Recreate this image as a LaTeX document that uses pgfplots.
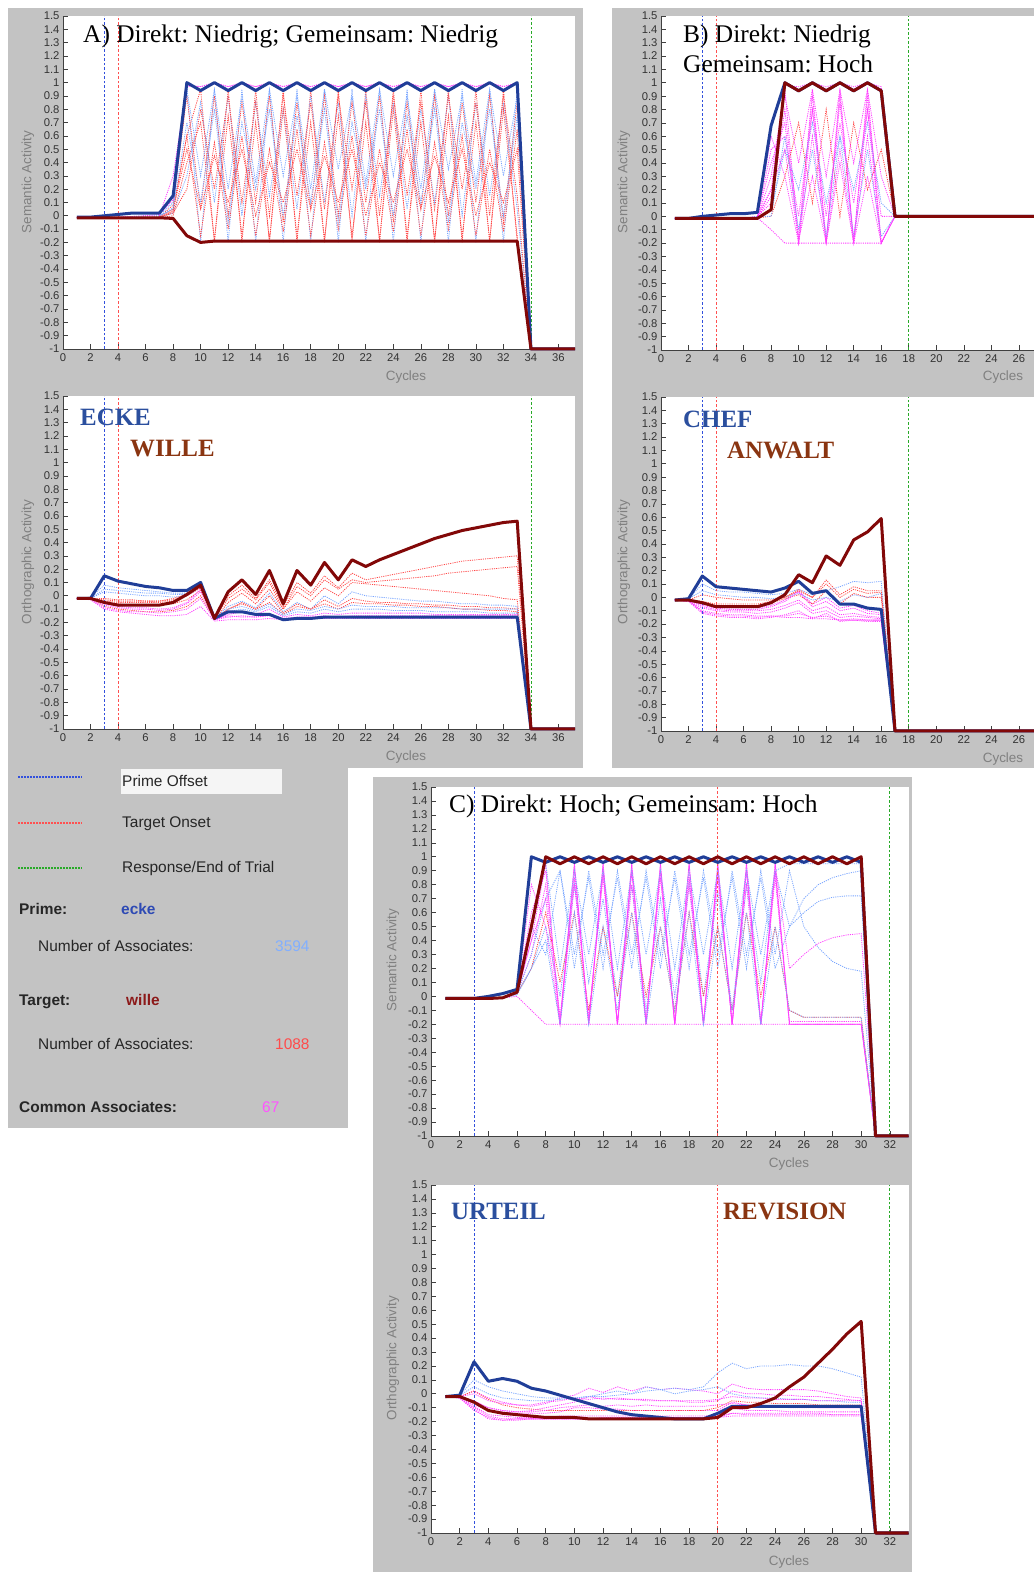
\documentclass[border=0pt]{standalone}
\usepackage{fontspec}
\setmainfont{Liberation Sans}
\newfontfamily\tnr{Liberation Serif}
\usepackage{pgfplots}
\pgfplotsset{compat=1.18}
\usepackage{pgfplotstable}
\frenchspacing

\definecolor{panelgray}{RGB}{195,195,195}
\definecolor{pblue}{RGB}{32,62,152}
\definecolor{tred}{RGB}{130,8,8}
\definecolor{lblue}{RGB}{120,165,255}
\definecolor{dred}{RGB}{255,70,70}
\definecolor{dmag}{RGB}{255,60,255}
\definecolor{vblue}{RGB}{50,80,220}
\definecolor{vred}{RGB}{255,80,80}
\definecolor{vgreen}{RGB}{40,170,40}
\definecolor{wblue}{RGB}{43,79,158}
\definecolor{wbrown}{RGB}{138,53,17}
\definecolor{cprime}{RGB}{46,74,180}
\definecolor{cnump}{RGB}{130,175,255}
\definecolor{ctarget}{RGB}{140,25,25}
\definecolor{cnumt}{RGB}{255,75,75}
\definecolor{ccommon}{RGB}{255,85,255}

\tikzset{
 dm/.style={dmag, line width=0.8bp, dash pattern=on 1.1bp off 1.1bp},
 db/.style={lblue, line width=0.8bp, dash pattern=on 1.1bp off 1.1bp},
 dr/.style={dred, line width=0.8bp, dash pattern=on 1.1bp off 1.1bp},
 vb/.style={vblue, line width=0.9bp, dash pattern=on 2.5bp off 2bp},
 vr/.style={vred, line width=0.9bp, dash pattern=on 2.5bp off 2bp},
 vg/.style={vgreen, line width=0.9bp, dash pattern=on 2.5bp off 2bp},
 thickP/.style={pblue, line width=3bp, line join=round},
 thickT/.style={tred, line width=3bp, line join=round},
}

\pgfplotsset{
 panel/.style={
  scale only axis, clip=false, anchor=south west,
  axis lines=left, axis line style={-, black!75, line width=0.8bp},
  ymin=-1, ymax=1.5, xmin=0,
  ytick={-1,-0.9,-0.8,-0.7,-0.6,-0.5,-0.4,-0.3,-0.2,-0.1,0,0.1,0.2,0.3,0.4,0.5,0.6,0.7,0.8,0.9,1,1.1,1.2,1.3,1.4,1.5},
  yticklabels={-1,-0.9,-0.8,-0.7,-0.6,-0.5,-0.4,-0.3,-0.2,-0.1,0,0.1,0.2,0.3,0.4,0.5,0.6,0.7,0.8,0.9,1,1.1,1.2,1.3,1.4,1.5},
  tick align=inside, major tick length=5bp,
  tick style={black!75, line width=0.6bp},
  ticklabel style={font=\fontsize{11.3}{12}\selectfont, text=black!80},
  xticklabel style={yshift=-1.5bp},
  /pgf/number format/assume math mode=true,
  axis background/.style={fill=white},
 }
}

\newcommand{\dotset}[9]{%
 \addplot[#2] table[x=x,y=a]{#1};
 \addplot[#3] table[x=x,y=b]{#1};
 \addplot[#4] table[x=x,y=c]{#1};
 \addplot[#5] table[x=x,y=d]{#1};
 \addplot[#6] table[x=x,y=e]{#1};
 \addplot[#7] table[x=x,y=f]{#1};
 \addplot[#8] table[x=x,y=g]{#1};
 \addplot[#9] table[x=x,y=h]{#1};}
\newcommand{\dotmore}[5]{%
 \addplot[#2] table[x=x,y=i]{#1};
 \addplot[#3] table[x=x,y=j]{#1};
 \addplot[#4] table[x=x,y=k]{#1};
 \addplot[#5] table[x=x,y=l]{#1};}
\newcommand{\thicks}[1]{%
 \addplot[thickP] table[x=x,y=P]{#1};
 \addplot[thickT] table[x=x,y=T]{#1};}

\pgfplotstableread{
x P T a b c d e f g h
1 -0.01 -0.015 -0.015 -0.015 -0.015 -0.015 -0.015 -0.015 -0.015 -0.015
2 -0.01 -0.015 -0.015 -0.015 -0.015 -0.015 -0.015 -0.015 -0.015 -0.015
3 0 -0.015 -0.015 -0.015 -0.015 -0.015 -0.015 -0.015 -0.015 -0.015
4 0.01 -0.015 -0.015 -0.01 -0.015 -0.015 -0.01 -0.015 -0.015 -0.015
5 0.02 -0.015 -0.01 -0.005 -0.015 -0.015 -0.005 -0.015 -0.01 -0.015
6 0.02 -0.015 -0.01 0 -0.01 -0.015 0 -0.015 -0.01 -0.015
7 0.02 -0.015 -0.01 0 -0.01 -0.015 0.01 -0.015 -0.01 -0.015
8 0.15 -0.02 0.05 0.1 0.08 0.02 0.12 0 0.06 0.03
9 1 -0.15 0.6 0.95 0.9 0.3 0.98 0.4 0.95 0.6
10 0.94 -0.2 0.95 -0.2 0.05 0.85 0.97 0.7 0.3 -0.15
11 1 -0.19 -0.2 0.95 0.9 0.1 1 -0.18 0.95 0.55
12 0.94 -0.19 0.95 -0.2 0 0.9 0.97 0.75 0.2 -0.1
13 1 -0.19 -0.2 0.95 0.85 0 1 -0.15 0.9 0.6
14 0.94 -0.19 0.95 -0.2 0.1 0.85 0.97 0.7 0.25 -0.15
15 1 -0.19 -0.2 0.95 0.9 0.15 1 -0.18 0.95 0.5
16 0.94 -0.19 0.95 -0.2 -0.05 0.8 0.97 0.8 0.3 -0.12
17 1 -0.19 -0.2 0.95 0.85 0.05 1 -0.15 0.9 0.65
18 0.94 -0.19 0.95 -0.2 0.05 0.9 0.97 0.7 0.2 -0.15
19 1 -0.19 -0.2 0.95 0.9 0.1 1 -0.18 0.95 0.55
20 0.94 -0.19 0.95 -0.2 0 0.85 0.97 0.75 0.35 -0.1
21 1 -0.19 -0.2 0.95 0.85 0 1 -0.15 0.9 0.6
22 0.94 -0.19 0.95 -0.2 0.1 0.9 0.97 0.7 0.25 -0.15
23 1 -0.19 -0.2 0.95 0.9 0.15 1 -0.18 0.95 0.5
24 0.94 -0.19 0.95 -0.2 -0.05 0.85 0.97 0.8 0.3 -0.12
25 1 -0.19 -0.2 0.95 0.85 0.05 1 -0.15 0.9 0.65
26 0.94 -0.19 0.95 -0.2 0.05 0.8 0.97 0.7 0.2 -0.15
27 1 -0.19 -0.2 0.95 0.9 0.1 1 -0.18 0.95 0.55
28 0.94 -0.19 0.95 -0.2 0 0.9 0.97 0.75 0.35 -0.1
29 1 -0.19 -0.2 0.95 0.85 0 1 -0.15 0.9 0.6
30 0.94 -0.19 0.95 -0.2 0.1 0.85 0.97 0.7 0.25 -0.15
31 1 -0.19 -0.2 0.95 0.9 0.15 1 -0.18 0.95 0.5
32 0.94 -0.19 0.95 -0.2 -0.05 0.85 0.97 0.8 0.3 -0.12
33 1 -0.19 -0.2 0.95 0.85 0.05 1 -0.15 0.9 0.65
34 -1 -1 -1 -1 -1 -1 -1 -1 -1 -1
37.2 -1 -1 nan nan nan nan nan nan nan nan
}\tAs
\pgfplotstableread{
x i j k l
7 0 -0.01 0 -0.01
8 0.05 0.02 0.3 0.04
9 0.7 0.2 0.97 0.5
10 0.1 0.8 0.97 0.05
11 0.8 0.2 0.99 0.45
12 -0.05 0.9 0.97 0.1
13 0.7 0.1 0.99 0.5
14 0.2 0.85 0.97 0
15 0.8 0 0.99 0.4
16 0 0.9 0.97 0.1
17 0.75 0.15 0.99 0.5
18 0.1 0.85 0.97 0.05
19 0.8 0.05 0.99 0.45
20 -0.05 0.9 0.97 0.1
21 0.7 0.2 0.99 0.5
22 0.2 0.85 0.97 0
23 0.8 0 0.99 0.4
24 0 0.9 0.97 0.1
25 0.75 0.15 0.99 0.5
26 0.1 0.85 0.97 0.05
27 0.8 0.05 0.99 0.45
28 -0.05 0.9 0.97 0.1
29 0.7 0.2 0.99 0.5
30 0.2 0.85 0.97 0
31 0.8 0 0.99 0.4
32 0 0.9 0.97 0.1
33 0.75 0.15 0.99 0.5
34 -1 -1 -1 -1
}\tAsX

\pgfplotstableread{
x P T a b c d e f g h
1 -0.02 -0.02 -0.02 -0.02 -0.02 -0.02 -0.02 -0.02 -0.02 -0.02
2 -0.02 -0.02 -0.03 -0.02 -0.01 -0.02 -0.02 -0.02 -0.02 -0.02
3 0.15 -0.05 -0.1 -0.07 0.08 0.03 -0.04 -0.03 -0.05 -0.08
4 0.11 -0.07 -0.12 -0.09 0.06 0.02 -0.05 -0.04 -0.06 -0.1
5 0.09 -0.07 -0.13 -0.1 0.05 0.01 -0.05 -0.04 -0.07 -0.11
6 0.07 -0.07 -0.14 -0.1 0.04 0 -0.05 -0.04 -0.07 -0.12
7 0.06 -0.07 -0.15 -0.11 0.03 0 -0.05 -0.04 -0.07 -0.12
8 0.04 -0.05 -0.15 -0.1 0.02 -0.01 -0.04 -0.02 -0.06 -0.11
9 0.04 0.01 -0.14 -0.06 0.02 0 0 0.01 -0.03 -0.08
10 0.1 0.08 -0.08 0.03 0.08 0.06 0.06 0.07 0.04 0
11 -0.17 -0.17 -0.19 -0.18 -0.17 -0.17 -0.17 -0.17 -0.18 -0.18
12 -0.12 0.03 -0.18 -0.15 -0.08 -0.12 0 -0.02 -0.05 -0.1
13 -0.12 0.12 -0.18 -0.16 -0.04 -0.1 0.08 0.05 0.02 -0.06
14 -0.14 0.01 -0.18 -0.16 -0.09 -0.12 -0.02 -0.03 -0.06 -0.1
15 -0.14 0.19 -0.17 -0.15 0.02 -0.08 0.12 0.1 0.05 -0.05
16 -0.18 -0.06 -0.18 -0.18 -0.12 -0.15 -0.08 -0.1 -0.1 -0.14
17 -0.17 0.19 -0.17 -0.17 -0.05 -0.12 0.1 0.07 0.03 -0.08
18 -0.17 0.08 -0.17 -0.17 -0.1 -0.13 0.02 0 -0.04 -0.1
19 -0.16 0.25 -0.17 -0.16 0 -0.1 0.15 0.12 0.06 -0.06
20 -0.16 0.12 -0.17 -0.16 -0.06 -0.12 0.06 0.05 0 -0.1
21 -0.16 0.27 -0.17 -0.16 0.03 -0.1 0.17 0.12 0.1 -0.05
22 -0.16 0.22 -0.17 -0.16 0 -0.1 0.12 0.1 0.09 -0.06
23 -0.16 0.27 -0.17 -0.16 -0.01 -0.1 0.14 0.11 0.08 -0.06
24 -0.16 0.31 -0.17 -0.16 -0.02 -0.11 0.16 0.12 0.07 -0.07
25 -0.16 0.35 -0.17 -0.16 -0.03 -0.11 0.18 0.13 0.06 -0.07
26 -0.16 0.39 -0.17 -0.16 -0.04 -0.11 0.2 0.14 0.05 -0.08
27 -0.16 0.43 -0.17 -0.16 -0.04 -0.12 0.22 0.15 0.04 -0.08
28 -0.16 0.46 -0.17 -0.16 -0.05 -0.12 0.24 0.17 0.03 -0.09
29 -0.16 0.49 -0.17 -0.16 -0.06 -0.12 0.26 0.18 0.02 -0.1
30 -0.16 0.51 -0.17 -0.16 -0.06 -0.12 0.27 0.19 0.01 -0.1
31 -0.16 0.53 -0.17 -0.16 -0.07 -0.13 0.28 0.2 0 -0.11
32 -0.16 0.55 -0.17 -0.16 -0.07 -0.13 0.29 0.21 -0.02 -0.11
33 -0.16 0.56 -0.17 -0.16 -0.08 -0.13 0.3 0.22 -0.03 -0.12
34 -1 -1 -1 -1 -1 -1 -1 -1 -1 -1
37.2 -1 -1 nan nan nan nan nan nan nan nan
}\tAo
\pgfplotstableread{
x i j k l
1 -0.02 -0.02 -0.02 -0.02
2 -0.025 -0.02 -0.02 -0.02
3 -0.09 -0.06 -0.02 0.05
4 -0.11 -0.08 -0.03 0.04
5 -0.12 -0.09 -0.03 0.03
6 -0.12 -0.09 -0.04 0.02
7 -0.13 -0.1 -0.04 0.02
8 -0.12 -0.09 -0.03 0.01
9 -0.1 -0.05 0 0.01
10 -0.02 0.05 0.07 0.09
11 -0.18 -0.18 -0.17 -0.17
12 -0.16 -0.14 -0.1 -0.1
13 -0.15 -0.12 -0.05 -0.08
14 -0.16 -0.14 -0.1 -0.11
15 -0.14 -0.1 0 -0.06
16 -0.17 -0.16 -0.13 -0.14
17 -0.16 -0.14 -0.06 -0.1
18 -0.16 -0.15 -0.1 -0.11
19 -0.15 -0.13 -0.03 -0.08
20 -0.16 -0.14 -0.08 -0.1
21 -0.15 -0.13 -0.02 -0.07
22 -0.15 -0.13 -0.04 -0.08
23 -0.15 -0.13 -0.05 -0.08
24 -0.15 -0.13 -0.05 -0.08
25 -0.15 -0.13 -0.06 -0.09
26 -0.15 -0.13 -0.06 -0.09
27 -0.15 -0.14 -0.07 -0.09
28 -0.15 -0.14 -0.07 -0.09
29 -0.15 -0.14 -0.08 -0.1
30 -0.15 -0.14 -0.08 -0.1
31 -0.15 -0.14 -0.09 -0.1
32 -0.15 -0.14 -0.09 -0.1
33 -0.15 -0.14 -0.1 -0.1
34 -1 -1 -1 -1
}\tAoX

\pgfplotstableread{
x P T a b c d e f g h
1 -0.015 -0.015 -0.015 -0.015 -0.015 -0.015 -0.015 -0.015 -0.015 -0.015
2 -0.015 -0.015 -0.015 -0.015 -0.015 -0.015 -0.015 -0.015 -0.015 -0.015
3 0 -0.015 -0.015 -0.015 -0.015 -0.015 -0.015 -0.015 -0.015 -0.015
4 0.01 -0.015 -0.015 -0.015 -0.015 -0.015 -0.015 -0.015 -0.015 -0.015
5 0.02 -0.015 -0.015 -0.015 -0.015 -0.015 -0.015 -0.015 -0.015 -0.015
6 0.02 -0.015 -0.015 -0.015 -0.015 -0.015 -0.015 -0.015 -0.015 -0.015
7 0.03 -0.015 -0.01 -0.01 0 -0.01 0 -0.01 -0.01 0
8 0.68 0.05 0.3 -0.1 0.1 0.5 0.2 0.05 0 0
9 1 1 0.95 -0.2 0.8 0.6 0.98 0.5 0.3 0.6
10 0.94 0.94 -0.2 -0.2 -0.15 0 0.97 0.2 0.7 -0.1
11 1 1 0.95 -0.2 0.9 0.8 1 0.7 0.1 0.5
12 0.94 0.94 -0.2 -0.2 -0.18 0 0.97 0.1 0.8 -0.15
13 1 1 0.95 -0.2 0.85 0.7 1 0.6 0 0.6
14 0.94 0.94 -0.2 -0.2 -0.2 0.1 0.97 0.2 0.7 -0.15
15 1 1 0.95 -0.2 0.9 0.8 1 0.7 0.2 0.5
16 0.94 0.94 -0.2 -0.2 -0.2 0 0.97 0.1 0.5 -0.15
17 0 0 0 0 0 0 0 0 0 0
27.1 0 0 nan nan nan nan nan nan nan nan
}\tBs
\pgfplotstableread{
x i j k l
7 0 -0.01 0 -0.01
8 0.4 0.2 0.6 0.15
9 0.7 0.5 0.3 0.9
10 -0.2 -0.18 -0.2 0.4
11 0.6 0.3 0.8 0.95
12 -0.2 -0.2 -0.2 0.3
13 0.5 0.4 0.9 0.95
14 -0.2 -0.2 -0.18 0.4
15 0.6 0.3 0.8 0.95
16 -0.2 -0.2 -0.2 0.3
17 0 0 0 0
}\tBsX

\pgfplotstableread{
x P T a b c d e f g h
1 -0.02 -0.02 -0.02 -0.02 -0.02 -0.02 -0.02 -0.02 -0.02 -0.02
2 -0.01 -0.02 -0.03 -0.02 -0.02 -0.01 -0.01 -0.02 -0.02 -0.03
3 0.16 -0.04 -0.1 -0.07 -0.05 0.1 0.05 -0.03 -0.04 -0.12
4 0.08 -0.07 -0.12 -0.09 -0.07 0.05 0.02 -0.05 -0.06 -0.14
5 0.07 -0.07 -0.13 -0.1 -0.08 0.04 0.01 -0.05 -0.06 -0.15
6 0.06 -0.07 -0.13 -0.1 -0.08 0.04 0 -0.05 -0.06 -0.15
7 0.05 -0.07 -0.14 -0.1 -0.08 0.03 0 -0.05 -0.06 -0.16
8 0.04 -0.04 -0.14 -0.09 -0.06 0.02 -0.01 -0.03 -0.04 -0.15
9 0.07 0.02 -0.15 -0.06 -0.02 0.03 0 0 -0.01 -0.13
10 0.12 0.17 -0.15 -0.02 0.05 0.06 0.03 0.06 0.02 -0.1
11 0.03 0.11 -0.16 -0.1 -0.05 0.02 -0.02 0 -0.05 -0.16
12 0.05 0.31 -0.16 -0.07 0 0.05 0 0.13 0.05 -0.12
13 -0.05 0.24 -0.17 -0.13 -0.08 0.08 -0.03 0.02 -0.05 -0.18
14 -0.05 0.43 -0.17 -0.12 -0.06 0.12 0.02 0.08 0.03 -0.17
15 -0.08 0.49 -0.17 -0.14 -0.1 0.11 0 0.05 0 -0.18
16 -0.09 0.59 -0.17 -0.15 -0.12 0.12 0.03 0.05 0 -0.18
17 -1 -1 -1 -1 -1 -1 -1 -1 -1 -1
27.1 -1 -1 nan nan nan nan nan nan nan nan
}\tBo
\pgfplotstableread{
x i j k l
1 -0.02 -0.02 -0.02 -0.02
2 -0.03 -0.02 -0.02 -0.02
3 -0.08 -0.11 -0.06 0.02
4 -0.1 -0.13 -0.08 0
5 -0.11 -0.14 -0.09 -0.01
6 -0.11 -0.14 -0.09 -0.02
7 -0.12 -0.15 -0.09 -0.02
8 -0.11 -0.14 -0.07 -0.02
9 -0.08 -0.14 -0.03 0
10 -0.04 -0.12 0.04 0.05
11 -0.12 -0.15 -0.07 0
12 -0.1 -0.14 -0.03 0.1
13 -0.15 -0.17 -0.1 0
14 -0.14 -0.16 -0.08 0.06
15 -0.15 -0.17 -0.12 0.03
16 -0.16 -0.17 -0.13 0.04
17 -1 -1 -1 -1
}\tBoX

\pgfplotstableread{
x P T a b c d e f g h
1 -0.015 -0.015 -0.015 -0.015 -0.015 -0.015 -0.015 -0.015 -0.015 -0.015
2 -0.015 -0.015 -0.015 -0.015 -0.015 -0.015 -0.015 -0.015 -0.015 -0.015
3 -0.015 -0.015 -0.015 -0.015 -0.015 -0.015 -0.015 -0.015 -0.015 -0.015
4 0 -0.015 -0.015 -0.015 -0.015 -0.015 -0.015 -0.015 -0.015 -0.015
5 0.02 -0.01 -0.01 -0.01 -0.01 -0.01 -0.01 -0.01 -0.01 -0.01
6 0.05 0.03 0.03 0 0.02 0.01 0.02 0.02 0.02 0.02
7 1 0.5 0.6 -0.1 0.3 0.2 0.5 0.2 0.4 0.3
8 0.96 1 0.9 -0.2 0.8 0.5 0.3 0.6 0.95 0.7
9 1 0.95 -0.2 -0.2 -0.15 0 0.9 0.1 -0.2 0.9
10 0.96 1 0.95 -0.2 0.85 0.8 0.2 0.6 0.95 0.3
11 1 0.95 -0.2 -0.2 -0.18 0.1 0.9 -0.1 -0.2 0.85
12 0.96 1 0.95 -0.2 0.9 0.7 0.3 0.5 0.95 0.2
13 1 0.95 -0.2 -0.2 -0.2 0 0.85 0 -0.2 0.9
14 0.96 1 0.95 -0.2 0.9 0.8 0.2 0.6 0.95 0.3
15 1 0.95 -0.2 -0.2 -0.18 -0.1 0.9 0 -0.2 0.85
16 0.96 1 0.95 -0.2 0.9 0.7 0.3 0.5 0.95 0.2
17 1 0.95 -0.2 -0.2 -0.2 0 0.85 -0.1 -0.2 0.9
18 0.96 1 0.95 -0.2 0.85 0.8 0.2 0.6 0.95 0.3
19 1 0.95 -0.2 -0.2 -0.2 0 0.9 0 -0.2 0.85
20 0.96 1 0.95 -0.2 0.9 0.75 0.3 0.5 0.95 0.2
21 1 0.95 -0.2 -0.2 -0.2 -0.1 0.85 -0.1 -0.2 0.9
22 0.96 1 0.95 -0.2 0.9 0.8 0.2 0.6 0.95 0.3
23 1 0.95 -0.2 -0.2 -0.2 0.1 0.9 0 -0.2 0.85
24 0.96 1 0.95 -0.2 0.9 0.9 0.3 0.5 0.95 0.2
25 1 0.95 -0.2 -0.2 -0.18 0.5 0.9 -0.1 0.2 0.5
26 0.96 1 -0.2 -0.2 -0.18 0.7 0.5 -0.15 0.3 0.6
27 1 0.95 -0.2 -0.2 -0.18 0.8 0.35 -0.15 0.38 0.68
28 0.96 1 -0.2 -0.2 -0.18 0.85 0.25 -0.15 0.42 0.71
29 1 0.95 -0.2 -0.2 -0.18 0.88 0.2 -0.15 0.44 0.72
30 0.96 1 -0.2 -0.2 -0.18 0.9 0.18 -0.15 0.45 0.72
31 -1 -1 -1 -1 -1 -1 -1 -1 -1 -1
33.3 -1 -1 nan nan nan nan nan nan nan nan
}\tCs
\pgfplotstableread{
x i j k l
5 -0.01 -0.01 -0.01 -0.01
6 0.03 0.03 0.02 0.02
7 0.8 0.4 0.2 0.5
8 0.5 0.7 0.4 0.95
9 -0.2 -0.2 -0.2 0.2
10 0.9 0.8 0.6 0.9
11 -0.2 -0.15 -0.2 0.3
12 0.9 0.85 0.5 0.9
13 -0.2 -0.2 -0.1 0.2
14 0.9 0.8 0.6 0.9
15 -0.2 -0.2 -0.2 0.3
16 0.9 0.85 0.5 0.9
17 -0.2 -0.2 -0.1 0.2
18 0.9 0.8 0.6 0.9
19 -0.2 -0.2 -0.2 0.3
20 0.9 0.85 0.5 0.9
21 -0.2 -0.2 -0.1 0.2
22 0.9 0.8 0.6 0.9
23 -0.2 -0.2 -0.2 0.3
24 0.9 0.85 0.5 0.9
25 -0.2 -0.2 -0.1 0.95
26 -0.2 -0.2 -0.15 0.95
27 -0.2 -0.2 -0.15 0.95
28 -0.2 -0.2 -0.15 0.95
29 -0.2 -0.2 -0.15 0.95
30 -0.2 -0.2 -0.15 0.95
31 -1 -1 -1 -1
}\tCsX

\pgfplotstableread{
x P T a b c d e f g h
1 -0.02 -0.02 -0.02 -0.02 -0.02 -0.02 -0.02 -0.02 -0.02 -0.02
2 -0.01 -0.02 -0.03 -0.02 -0.02 -0.01 -0.02 -0.03 -0.02 -0.01
3 0.23 -0.06 -0.1 -0.08 0.02 0.1 0.02 -0.12 -0.05 0.05
4 0.09 -0.12 -0.16 -0.12 -0.03 0.05 -0.04 -0.17 -0.1 0
5 0.11 -0.14 -0.18 -0.13 -0.06 0.02 -0.08 -0.19 -0.12 -0.03
6 0.09 -0.15 -0.18 -0.14 -0.08 0 -0.1 -0.18 -0.13 -0.04
7 0.04 -0.16 -0.18 -0.14 -0.09 -0.02 -0.11 -0.18 -0.12 -0.05
8 0.02 -0.17 -0.18 -0.14 -0.07 -0.03 -0.12 -0.18 -0.1 -0.05
9 -0.01 -0.17 -0.18 -0.13 -0.03 -0.03 -0.12 -0.18 -0.08 -0.04
10 -0.04 -0.17 -0.18 -0.1 -0.01 -0.03 -0.12 -0.18 -0.06 -0.03
11 -0.07 -0.18 -0.18 -0.1 0.04 -0.02 -0.12 -0.18 -0.02 -0.02
12 -0.1 -0.18 -0.18 -0.11 0.01 -0.02 -0.12 -0.17 -0.04 0
13 -0.13 -0.18 -0.18 -0.11 0.05 -0.01 -0.12 -0.17 -0.03 0.02
14 -0.15 -0.18 -0.18 -0.12 0.02 0 -0.12 -0.17 -0.04 0
15 -0.16 -0.18 -0.18 -0.12 0.05 0.02 -0.12 -0.17 -0.04 0.05
16 -0.17 -0.18 -0.18 -0.12 0.03 0.03 -0.12 -0.17 -0.05 0.03
17 -0.18 -0.18 -0.18 -0.12 0.04 0.04 -0.12 -0.17 -0.05 0
18 -0.18 -0.18 -0.18 -0.12 0.03 0.03 -0.12 -0.17 -0.06 0.02
19 -0.18 -0.18 -0.18 -0.12 0.02 0.05 -0.12 -0.17 -0.06 0.03
20 -0.14 -0.17 -0.17 -0.12 0 0.15 -0.1 -0.16 -0.05 0.05
21 -0.09 -0.1 -0.16 -0.06 0.07 0.22 -0.05 -0.14 0.02 0
22 -0.09 -0.1 -0.16 -0.08 0.04 0.18 -0.06 -0.14 0 -0.02
23 -0.09 -0.07 -0.16 -0.09 0.03 0.2 -0.06 -0.14 0 -0.03
24 -0.09 -0.03 -0.16 -0.09 0.03 0.2 -0.07 -0.14 -0.01 -0.03
25 -0.09 0.05 -0.16 -0.1 0.03 0.21 -0.07 -0.14 -0.01 -0.04
26 -0.09 0.12 -0.16 -0.1 0.03 0.2 -0.07 -0.14 -0.02 -0.04
27 -0.09 0.22 -0.16 -0.1 0.02 0.2 -0.08 -0.14 -0.02 -0.05
28 -0.09 0.32 -0.16 -0.1 0 0.18 -0.08 -0.15 -0.03 -0.05
29 -0.09 0.43 -0.16 -0.1 -0.02 0.15 -0.08 -0.15 -0.04 -0.06
30 -0.09 0.52 -0.16 -0.1 -0.03 0.12 -0.08 -0.15 -0.05 -0.06
31 -1 -1 -1 -1 -1 -1 -1 -1 -1 -1
33.3 -1 -1 nan nan nan nan nan nan nan nan
}\tCo
\pgfplotstableread{
x i j k l
1 -0.02 -0.02 -0.02 -0.02
2 -0.03 -0.02 -0.02 -0.02
3 -0.11 -0.09 -0.06 0
4 -0.18 -0.15 -0.1 -0.05
5 -0.19 -0.16 -0.12 -0.07
6 -0.19 -0.17 -0.13 -0.08
7 -0.18 -0.17 -0.13 -0.08
8 -0.18 -0.17 -0.12 -0.06
9 -0.18 -0.16 -0.1 -0.05
10 -0.18 -0.16 -0.09 -0.03
11 -0.18 -0.16 -0.08 -0.04
12 -0.18 -0.16 -0.09 -0.03
13 -0.18 -0.16 -0.08 -0.04
14 -0.18 -0.16 -0.09 -0.04
15 -0.18 -0.16 -0.08 -0.05
16 -0.18 -0.16 -0.09 -0.05
17 -0.18 -0.16 -0.09 -0.05
18 -0.18 -0.16 -0.09 -0.05
19 -0.18 -0.16 -0.09 -0.05
20 -0.17 -0.15 -0.08 -0.04
21 -0.14 -0.1 -0.07 -0.02
22 -0.15 -0.12 -0.08 -0.03
23 -0.15 -0.12 -0.08 -0.03
24 -0.15 -0.12 -0.09 -0.04
25 -0.15 -0.13 -0.09 -0.04
26 -0.15 -0.13 -0.09 -0.04
27 -0.15 -0.13 -0.1 -0.05
28 -0.15 -0.13 -0.1 -0.05
29 -0.15 -0.13 -0.1 -0.05
30 -0.15 -0.13 -0.1 -0.05
31 -1 -1 -1 -1
}\tCoX

\newcommand\tfont{\tnr\fontsize{25.5}{27}\selectfont}
\newcommand\wfont{\tnr\bfseries\fontsize{25}{26}\selectfont}
\newcommand\lfont{\fontsize{15.5}{17}\selectfont}
\newcommand\afont{\fontsize{13.5}{15}\selectfont}

\begin{document}
\begin{tikzpicture}
\useasboundingbox (0bp,0bp) rectangle (1034bp,1572bp);
\clip (0bp,0bp) rectangle (1034bp,1572bp);
\fill[white] (0bp,0bp) rectangle (1034bp,1572bp);
\begin{scope}[yshift=1572bp]
\fill[panelgray] (8bp,-8bp) rectangle (583bp,-768bp);
\fill[panelgray] (612bp,-8bp) rectangle (1034bp,-768bp);
\fill[panelgray] (8bp,-768bp) rectangle (348bp,-1128bp);
\fill[panelgray] (373bp,-777bp) rectangle (912bp,-1572bp);
\end{scope}

% ===== A top
\begin{axis}[panel, at={(63bp,1223bp)}, width=512bp, height=333bp, xmax=37.2, xtick={0,2,...,36}]
\dotset{\tAs}{dr}{db}{dr}{db}{dm}{dr}{db}{dr}
\dotmore{\tAsX}{db}{dr}{dm}{dr}
\addplot[vb] coordinates {(3,-1) (3,1.5)};
\addplot[vr] coordinates {(4,-1) (4,1.5)};
\addplot[vg] coordinates {(34,-1) (34,1.5)};
\thicks{\tAs}
\end{axis}
% ===== A bottom
\begin{axis}[panel, at={(63bp,843bp)}, width=512bp, height=333bp, xmax=37.2, xtick={0,2,...,36}]
\dotset{\tAo}{dm}{dm}{db}{db}{dr}{dr}{dr}{dr}
\dotmore{\tAoX}{dm}{dm}{dr}{db}
\addplot[vb] coordinates {(3,-1) (3,1.5)};
\addplot[vr] coordinates {(4,-1) (4,1.5)};
\addplot[vg] coordinates {(34,-1) (34,1.5)};
\thicks{\tAo}
\end{axis}
% ===== B top
\begin{axis}[panel, at={(661bp,1222bp)}, width=373bp, height=334bp, xmax=27.1, xtick={0,2,...,26}]
\dotset{\tBs}{dm}{dm}{dm}{dm}{dm}{db}{dr}{db}
\dotmore{\tBsX}{dm}{dm}{dm}{dm}
\addplot[vb] coordinates {(3,-1) (3,1.5)};
\addplot[vr] coordinates {(4,-1) (4,1.5)};
\addplot[vg] coordinates {(18,-1) (18,1.5)};
\thicks{\tBs}
\end{axis}
% ===== B bottom
\begin{axis}[panel, at={(661bp,841bp)}, width=373bp, height=334bp, xmax=27.1, xtick={0,2,...,26}]
\dotset{\tBo}{dm}{dm}{dm}{db}{db}{dr}{dr}{dm}
\dotmore{\tBoX}{dm}{dm}{dm}{dr}
\addplot[vb] coordinates {(3,-1) (3,1.5)};
\addplot[vr] coordinates {(4,-1) (4,1.5)};
\addplot[vg] coordinates {(18,-1) (18,1.5)};
\thicks{\tBo}
\end{axis}
% ===== C top
\begin{axis}[panel, at={(431bp,436bp)}, width=477.5bp, height=349bp, xmax=33.3, xtick={0,2,...,32}]
\dotset{\tCs}{dm}{dm}{dm}{db}{db}{dr}{dm}{db}
\dotmore{\tCsX}{dm}{dm}{db}{db}
\addplot[vb] coordinates {(3,-1) (3,1.5)};
\addplot[vr] coordinates {(20,-1) (20,1.5)};
\addplot[vg] coordinates {(32,-1) (32,1.5)};
\thicks{\tCs}
\end{axis}
% ===== C bottom
\begin{axis}[panel, at={(431bp,39bp)}, width=477.5bp, height=348bp, xmax=33.3, xtick={0,2,...,32}]
\dotset{\tCo}{dm}{dm}{dm}{db}{dr}{dm}{dm}{db}
\dotmore{\tCoX}{dm}{dm}{dm}{dm}
\addplot[vb] coordinates {(3,-1) (3,1.5)};
\addplot[vr] coordinates {(20,-1) (20,1.5)};
\addplot[vg] coordinates {(32,-1) (32,1.5)};
\thicks{\tCo}
\end{axis}

\begin{scope}[yshift=1572bp]
\begin{scope}[every node/.style={inner sep=0pt, font=\afont, text=black!50}]
\node[rotate=90] at (28bp,-182bp) {Semantic Activity};
\node[rotate=90] at (28bp,-562bp) {Orthographic Activity};
\node[rotate=90] at (624bp,-182bp) {Semantic Activity};
\node[rotate=90] at (624bp,-562bp) {Orthographic Activity};
\node[rotate=90] at (393bp,-960bp) {Semantic Activity};
\node[rotate=90] at (393bp,-1358bp) {Orthographic Activity};
\node[anchor=base] at (406bp,-381bp) {Cycles};
\node[anchor=base] at (406bp,-761bp) {Cycles};
\node[anchor=base] at (1003bp,-381bp) {Cycles};
\node[anchor=base] at (1003bp,-763bp) {Cycles};
\node[anchor=base] at (789bp,-1168bp) {Cycles};
\node[anchor=base] at (789bp,-1565bp) {Cycles};
\end{scope}

\begin{scope}[every node/.style={inner sep=0pt, anchor=base west}]
\node[font=\tfont] at (83bp,-43bp) {A) Direkt: Niedrig; Gemeinsam: Niedrig};
\node[font=\tfont] at (683bp,-43bp) {B) Direkt: Niedrig};
\node[font=\tfont] at (683bp,-73bp) {Gemeinsam: Hoch};
\node[font=\tfont] at (449bp,-813bp) {C) Direkt: Hoch; Gemeinsam: Hoch};
\node[font=\wfont, text=wblue] at (80bp,-426bp) {ECKE};
\node[font=\wfont, text=wbrown] at (130bp,-457bp) {WILLE};
\node[font=\wfont, text=wblue] at (683bp,-428bp) {CHEF};
\node[font=\wfont, text=wbrown] at (727bp,-459bp) {ANWALT};
\node[font=\wfont, text=wblue] at (451bp,-1220bp) {URTEIL};
\node[font=\wfont, text=wbrown] at (723bp,-1220bp) {REVISION};
\end{scope}

\fill[white!96!black] (121bp,-769bp) rectangle (282bp,-794bp);
\draw[vblue, line width=1.2bp, dash pattern=on 2bp off 1bp] (18bp,-777bp) -- (82bp,-777bp);
\draw[vred, line width=1.2bp, dash pattern=on 2bp off 1bp] (18bp,-823bp) -- (82bp,-823bp);
\draw[vgreen, line width=1.2bp, dash pattern=on 2bp off 1bp] (18bp,-868bp) -- (82bp,-868bp);
\begin{scope}[every node/.style={inner sep=0pt, anchor=base west, font=\lfont, text=black!85}]
\node at (122bp,-787bp) {Prime Offset};
\node at (122bp,-828bp) {Target Onset};
\node at (122bp,-873bp) {Response/End of Trial};
\node[font=\lfont\bfseries] at (19bp,-915bp) {Prime:};
\node[font=\lfont\bfseries, text=cprime] at (121bp,-915bp) {ecke};
\node at (38bp,-952bp) {Number of Associates:};
\node[text=cnump] at (275bp,-952bp) {3594};
\node[font=\lfont\bfseries] at (19bp,-1006bp) {Target:};
\node[font=\lfont\bfseries, text=ctarget] at (126bp,-1006bp) {wille};
\node at (38bp,-1050bp) {Number of Associates:};
\node[text=cnumt] at (275bp,-1050bp) {1088};
\node[font=\lfont\bfseries] at (19bp,-1113bp) {Common Associates:};
\node[text=ccommon] at (262bp,-1113bp) {67};
\end{scope}
\end{scope}
\end{tikzpicture}
\end{document}
